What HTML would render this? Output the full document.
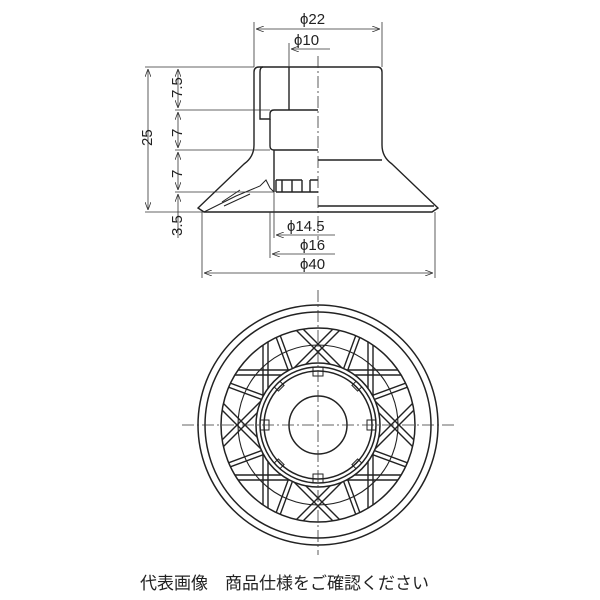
<!DOCTYPE html>
<html><head><meta charset="utf-8"><style>
html,body{margin:0;padding:0;background:#fff;width:600px;height:600px;overflow:hidden}
svg{display:block}
text{font-family:"Liberation Sans",sans-serif;fill:#222}
</style></head><body>
<svg width="600" height="600" viewBox="0 0 600 600" xmlns="http://www.w3.org/2000/svg">
<defs>
<marker id="a" markerWidth="8" markerHeight="6" refX="8" refY="3" orient="auto-start-reverse" markerUnits="userSpaceOnUse"><path d="M0,0 L8,3 L0,6" fill="none" stroke="#333" stroke-width="0.8"/></marker>
<clipPath id="ann"><path d="M0,-97 a97,97 0 1,0 0.01,0 Z M0,-62 a62,62 0 1,1 -0.01,0 Z" clip-rule="evenodd"/></clipPath>
</defs>
<g stroke="#222" fill="none" stroke-width="1.4">
<path d="M318,67 H377 Q382,67 382,72 V145 Q382,157 392,164 L438,208 L432,212 H318"/>
<path d="M318,67 H259 Q254,67 254,72 V145 Q254,157 244,164 L198,208 L204,212 H318"/>
<path d="M263,67 Q260,67 260,72 V119 H270 V114 Q270,110 274,110 H318"/>
<line x1="289" y1="67" x2="289" y2="110"/>
<path d="M270,119 V146 Q270,150 274,150 H318"/>
<line x1="274" y1="150" x2="274" y2="192"/>
<path d="M276,192 H318 M276,180 V192 M282,180 V192 M292,180 V192 M302,180 V192 M310,180 H318 M310,180 V192"/>
<line x1="276" y1="180" x2="302" y2="180"/>
<line x1="318" y1="160" x2="382" y2="160"/>
<line x1="318" y1="206" x2="434" y2="206"/>
<path d="M204,212 L236,196 L260,186 L266,180 L270,188 L274,192" stroke-width="1"/>
<path d="M222,202 L240,190 M224,206 L250,194" stroke-width="1"/>
</g>
<line x1="318" y1="56" x2="318" y2="240" stroke="#333" stroke-width="0.8" stroke-dasharray="12,3,2,3"/>
<g stroke="#333" stroke-width="0.8" fill="none">
<line x1="254" y1="22" x2="254" y2="67"/><line x1="382" y1="22" x2="382" y2="67"/>
<line x1="256" y1="29" x2="380" y2="29" marker-start="url(#a)" marker-end="url(#a)"/>
<line x1="289" y1="43" x2="289" y2="67"/>
<line x1="291" y1="49" x2="330" y2="49" marker-start="url(#a)"/>
<line x1="145" y1="67" x2="254" y2="67"/>
<line x1="175" y1="110" x2="270" y2="110"/>
<line x1="175" y1="150" x2="270" y2="150"/>
<line x1="175" y1="192" x2="274" y2="192"/>
<line x1="145" y1="212" x2="204" y2="212"/>
<line x1="148" y1="69" x2="148" y2="210" marker-start="url(#a)" marker-end="url(#a)"/>
<line x1="178" y1="69" x2="178" y2="108" marker-start="url(#a)" marker-end="url(#a)"/>
<line x1="178" y1="112" x2="178" y2="148" marker-start="url(#a)" marker-end="url(#a)"/>
<line x1="178" y1="152" x2="178" y2="190" marker-start="url(#a)" marker-end="url(#a)"/>
<line x1="178" y1="194" x2="178" y2="238" marker-start="url(#a)"/>
<line x1="274" y1="192" x2="274" y2="238"/>
<line x1="270" y1="212" x2="270" y2="258"/>
<line x1="276" y1="235" x2="335" y2="235" marker-start="url(#a)"/>
<line x1="272" y1="254" x2="335" y2="254" marker-start="url(#a)"/>
<line x1="202" y1="212" x2="202" y2="278"/><line x1="435" y1="212" x2="435" y2="278"/>
<line x1="204" y1="273" x2="433" y2="273" marker-start="url(#a)" marker-end="url(#a)"/>
</g>
<g font-size="15">
<text x="300" y="24">ϕ22</text>
<text x="294" y="45">ϕ10</text>
<text x="287" y="231">ϕ14.5</text>
<text x="300" y="250">ϕ16</text>
<text x="300" y="269">ϕ40</text>
<text transform="translate(152,146) rotate(-90)">25</text>
<text transform="translate(182,98) rotate(-90)">7.5</text>
<text transform="translate(182,137) rotate(-90)">7</text>
<text transform="translate(182,178) rotate(-90)">7</text>
<text transform="translate(182,236) rotate(-90)">3.5</text>
</g>
<g transform="translate(318,425)" stroke="#222" fill="none" stroke-width="1.5">
<circle r="120"/>
<circle r="113"/>
<circle r="97"/>
<circle r="80" stroke-width="1.1"/>
<circle r="62"/>
<circle r="58"/>
<circle r="54"/>
<circle r="29"/>
<g clip-path="url(#ann)" stroke-width="1.4">
<g id="q">
<line x1="-55" y1="-100" x2="-55" y2="100"/><line x1="-50" y1="-100" x2="-50" y2="100"/>
<line x1="-110" y1="37" x2="37" y2="-110"/><line x1="-110" y1="29" x2="29" y2="-110"/>
<line x1="-52" y1="-128" x2="0" y2="13"/><line x1="-56" y1="-126" x2="-4" y2="15"/>
<line x1="52" y1="-128" x2="0" y2="13"/><line x1="56" y1="-126" x2="4" y2="15"/>
</g>
<use href="#q" transform="rotate(90)"/>
<use href="#q" transform="rotate(180)"/>
<use href="#q" transform="rotate(270)"/>
</g>
<g stroke-width="1">
<rect x="-5" y="-58" width="10" height="9"/><rect x="-5" y="49" width="10" height="9"/>
<rect x="-58" y="-5" width="9" height="10"/><rect x="49" y="-5" width="9" height="10"/>
<g transform="rotate(45)"><rect x="-4" y="-58" width="8" height="6"/><rect x="-4" y="52" width="8" height="6"/><rect x="-58" y="-4" width="6" height="8"/><rect x="52" y="-4" width="6" height="8"/></g>
</g>
</g>
<g stroke="#333" stroke-width="0.8" stroke-dasharray="12,3,2,3">
<line x1="318" y1="290" x2="318" y2="555"/>
<line x1="182" y1="425" x2="455" y2="425"/>
</g>
<text x="140" y="589" font-size="17" style="font-family:'Liberation Sans','Noto Sans CJK JP',sans-serif">代表画像　商品仕様をご確認ください</text>
</svg>
</body></html>
